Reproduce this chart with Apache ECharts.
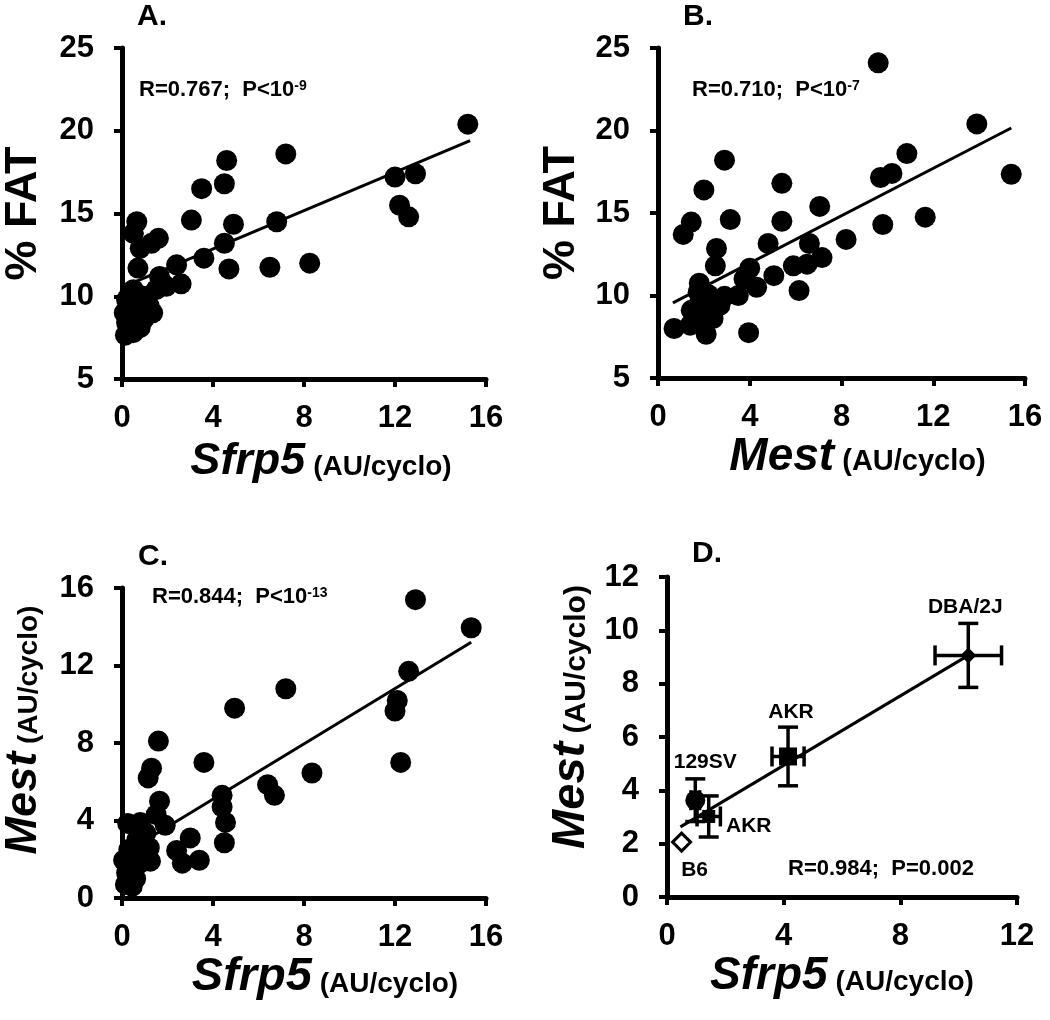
<!DOCTYPE html>
<html>
<head>
<meta charset="utf-8">
<script src="https://cdn.jsdelivr.net/npm/echarts@6/dist/echarts.min.js"></script>
<style>
  html, body { margin: 0; padding: 0; background: #fff; }
  #main { width: 1050px; height: 1020px; }
</style>
</head>
<body>
<div id="main"></div>
<script>
// tick labels
var ticksA_x = [0, 4, 8, 12, 16];
var ticksA_y = [5, 10, 15, 20, 25];
var ticksB_x = [0, 4, 8, 12, 16];
var ticksB_y = [5, 10, 15, 20, 25];
var ticksC_x = [0, 4, 8, 12, 16];
var ticksC_y = [0, 4, 8, 12, 16];
var ticksD_x = [0, 4, 8, 12];
var ticksD_y = [0, 2, 4, 6, 8, 10, 12];

// A: Sfrp5 vs % fat
var pointsA = [[15.2,20.4],[7.2,18.6],[4.6,18.2],[4.5,16.8],[3.5,16.5],[3.05,14.6],[4.9,14.35],[6.8,14.5],
  [4.5,13.2],[3.6,12.3],[4.7,11.65],[6.5,11.75],[8.25,12.0],[12.0,17.2],[12.9,17.4],[12.2,15.5],[12.6,14.8],
  [2.4,11.9],[2.6,10.75],[1.65,11.2],[1.6,13.5],[1.3,13.2],[0.65,14.5],[0.5,13.8],[0.8,12.9],[0.7,11.7],
  [1.95,10.6],[1.5,10.4],[0.5,10.4],[0.95,10.0],[0.2,9.8],[1.2,9.4],[0.5,9.2],[1.35,9.0],[0.95,8.6],
  [0.2,8.4],[0.5,7.8],[0.15,7.65],[0.8,8.1],[0.1,9.0],[0.35,10.2],[0.7,9.6]];
var fitA = [[0.1,10.6],[15.3,19.4]];

// B: Mest vs % fat
var pointsB = [[9.6,24.1],[13.9,20.4],[15.4,17.35],[10.85,18.6],[10.2,17.4],[9.7,17.15],[9.8,14.3],[11.65,14.75],
  [8.2,13.4],[7.05,15.4],[6.6,13.15],[7.15,12.3],[6.5,11.9],[5.9,11.8],[6.15,10.3],[5.05,11.2],[4.8,13.15],
  [5.4,16.8],[5.4,14.5],[4.0,11.65],[4.3,10.5],[3.75,11.0],[3.95,7.75],[3.5,10.0],[2.9,18.2],[3.15,14.6],
  [2.0,16.4],[1.45,14.45],[1.1,13.7],[2.55,12.85],[2.5,11.8],[1.8,10.75],[2.2,10.05],[2.9,9.95],[0.7,8.0],
  [1.4,8.2],[1.45,9.1],[2.1,7.65],[2.4,8.6],[1.8,9.5],[2.25,9.0],[1.6,8.7],[2.0,8.3],[1.75,10.2],[2.7,9.4]];
var fitB = [[0.65,9.55],[15.4,20.15]];

// C: Sfrp5 vs Mest
var pointsC = [[12.9,15.4],[15.35,13.95],[12.6,11.7],[12.1,10.2],[12.0,9.65],[12.25,7.0],[7.2,10.8],[4.95,9.8],
  [8.35,6.45],[6.4,5.85],[6.7,5.3],[3.6,7.0],[4.4,5.3],[4.4,4.7],[4.55,3.9],[4.5,2.85],[3.0,3.1],[3.4,1.95],
  [2.4,2.45],[2.65,1.8],[1.6,8.1],[1.3,6.7],[1.15,6.2],[1.65,5.0],[1.5,4.3],[1.9,3.75],[1.25,1.9],[1.2,2.6],
  [0.07,1.95],[0.45,0.6],[0.25,3.85],[0.8,3.9],[1.05,3.35],[0.65,3.0],[0.5,1.8],[0.6,1.0],[0.2,1.3],
  [1.0,2.8],[0.9,2.3],[0.3,2.5],[0.15,0.7],[0.8,1.8]];
var fitC = [[0.07,2.3],[15.35,13.2]];

// D: strain means
var strains = ['DBA/2J', 'AKR', '129SV', 'AKR', 'B6'];
var sfrp5D = [10.33, 4.15, 0.97, 1.43, 0.5];
var mestD = [9.06, 5.27, 3.63, 3.02, 2.06];
var sfrp5Err = [1.14, 0.55, 0.15, 0.4, 0];
var mestErr = [1.2, 1.1, 0.8, 0.77, 0];
var fitD = [[0.46,2.63],[10.33,9.06]];

var FONT = 'Liberation Sans, Arial, sans-serif';

function axisFrom(ticks) {
  return { min: ticks[0], max: ticks[ticks.length - 1], interval: ticks[1] - ticks[0] };
}

function makeAxis(grid, ticks, extra) {
  var ax = axisFrom(ticks);
  var a = {
    type: 'value', gridIndex: grid,
    min: ax.min, max: ax.max, interval: ax.interval,
    splitLine: { show: false },
    axisLine: { show: true, onZero: false, lineStyle: { color: '#000', width: 5 } },
    axisTick: { show: true, length: 8, lineStyle: { color: '#000', width: 4 } },
    axisLabel: { color: '#000', fontSize: 31, fontWeight: 'bold', fontFamily: FONT, margin: 24 },
    nameLocation: 'middle'
  };
  for (var k in extra) a[k] = extra[k];
  return a;
}

// italic gene name + smaller unit, shifted along the axis by pad
function richName(big, small, pad) {
  return {
    color: '#000',
    padding: [0, 0, 0, pad],
    rich: {
      i: { fontSize: big, fontStyle: 'italic', fontWeight: 'bold', fontFamily: FONT, color: '#000' },
      n: { fontSize: small, fontWeight: 'bold', fontFamily: FONT, color: '#000', verticalAlign: 'bottom', padding: [0, 0, 3, 0] }
    }
  };
}

var sfrpName = '{i|Sfrp5}{n| (AU/cyclo)}';
var mestName = '{i|Mest}{n| (AU/cyclo)}';

var fatName = { color: '#000', fontSize: 45, fontWeight: 'bold', fontFamily: FONT };
var yLabel = { color: '#000', fontSize: 31, fontWeight: 'bold', fontFamily: FONT, margin: 28 };

var dotStyle = { color: '#000', opacity: 1 };
function scatter(grid, pts) {
  return { type: 'scatter', xAxisIndex: grid, yAxisIndex: grid, data: pts, symbolSize: 21,
    itemStyle: dotStyle, silent: true, z: 3 };
}
function fitLine(grid, pts) {
  return { type: 'line', xAxisIndex: grid, yAxisIndex: grid, data: pts, showSymbol: false,
    lineStyle: { color: '#000', width: 3, opacity: 1 }, silent: true, z: 4 };
}

// strain marker looks and label offsets for panel D
var strainLook = [
  { symbol: 'diamond', size: 16, fill: '#000', offset: [-3, -48] },
  { symbol: 'rect', size: 18, fill: '#000', offset: [3, -44] },
  { symbol: 'circle', size: 20, fill: '#000', offset: [10, -38] },
  { symbol: 'rect', size: 13, fill: '#000', offset: [40, 10] },
  { symbol: 'diamond', size: 18, fill: '#fff', offset: [13, 28] }
];

var errData = [];
var strainData = [];
for (var i = 0; i < strains.length; i++) {
  errData.push([sfrp5D[i], mestD[i], sfrp5Err[i], mestErr[i]]);
  var lk = strainLook[i];
  strainData.push({
    value: [sfrp5D[i], mestD[i]],
    name: strains[i],
    symbol: lk.symbol,
    symbolSize: lk.size,
    itemStyle: { color: lk.fill, borderColor: '#000', borderWidth: lk.fill === '#fff' ? 3 : 0, opacity: 1 },
    label: { show: true, formatter: strains[i], position: 'inside', offset: lk.offset,
      color: '#000', fontSize: 21, fontWeight: 'bold', fontFamily: FONT }
  });
}

function renderErr(params, api) {
  var x = api.value(0), y = api.value(1), ex = api.value(2), ey = api.value(3);
  var cap = 10;
  var kids = [];
  var st = { stroke: '#000', lineWidth: 3.5 };
  if (ey > 0) {
    var t = api.coord([x, y + ey]), b = api.coord([x, y - ey]);
    kids.push({ type: 'line', shape: { x1: t[0], y1: t[1], x2: b[0], y2: b[1] }, style: st });
    kids.push({ type: 'line', shape: { x1: t[0] - cap, y1: t[1], x2: t[0] + cap, y2: t[1] }, style: st });
    kids.push({ type: 'line', shape: { x1: b[0] - cap, y1: b[1], x2: b[0] + cap, y2: b[1] }, style: st });
  }
  if (ex > 0) {
    var l = api.coord([x - ex, y]), r = api.coord([x + ex, y]);
    kids.push({ type: 'line', shape: { x1: l[0], y1: l[1], x2: r[0], y2: r[1] }, style: st });
    kids.push({ type: 'line', shape: { x1: l[0], y1: l[1] - cap, x2: l[0], y2: l[1] + cap }, style: st });
    kids.push({ type: 'line', shape: { x1: r[0], y1: r[1] - cap, x2: r[0], y2: r[1] + cap }, style: st });
  }
  return { type: 'group', children: kids };
}

function note(left, top, main, sup) {
  return {
    type: 'text', left: left, top: top, silent: true,
    style: {
      text: '{t|' + main + '}' + (sup ? '{s|' + sup + '}' : ''),
      rich: {
        t: { fontSize: 22, fontWeight: 'bold', fontFamily: FONT, fill: '#000', color: '#000' },
        s: { fontSize: 14, fontWeight: 'bold', fontFamily: FONT, fill: '#000', color: '#000', verticalAlign: 'top' }
      }
    }
  };
}
function panelTag(left, top, txt) {
  return { type: 'text', left: left, top: top, silent: true,
    style: { text: txt, fontSize: 30, fontWeight: 'bold', fontFamily: FONT, fill: '#000' } };
}

var chart = echarts.init(document.getElementById('main'));
chart.setOption({
  animation: false,
  backgroundColor: '#fff',
  grid: [
    { left: 115, top: 48, width: 371, height: 331 },
    { left: 658, top: 48, width: 367, height: 330 },
    { left: 115, top: 588, width: 371, height: 310 },
    { left: 667, top: 577, width: 350, height: 320 }
  ],
  xAxis: [
    makeAxis(0, ticksA_x, { name: sfrpName, nameGap: 60, nameTextStyle: richName(45, 28, 34) }),
    makeAxis(1, ticksB_x, { name: mestName, nameGap: 52, nameTextStyle: richName(46, 29, 32) }),
    makeAxis(2, ticksC_x, { name: sfrpName, nameGap: 56, nameTextStyle: richName(47, 28, 42) }),
    makeAxis(3, ticksD_x, { name: sfrpName, nameGap: 56, nameTextStyle: richName(46, 28, 0) })
  ],
  yAxis: [
    makeAxis(0, ticksA_y, { name: '% FAT', nameGap: 76, nameRotate: 90, nameTextStyle: fatName, axisLabel: yLabel }),
    makeAxis(1, ticksB_y, { name: '% FAT', nameGap: 74, nameRotate: 90, nameTextStyle: fatName, axisLabel: yLabel }),
    makeAxis(2, ticksC_y, { name: mestName, nameGap: 76, nameRotate: 90, nameTextStyle: richName(45, 28, 26), axisLabel: yLabel }),
    makeAxis(3, ticksD_y, { name: mestName, nameGap: 72, nameRotate: 90, nameTextStyle: richName(47, 30, 40), axisLabel: yLabel })
  ],
  graphic: [
    panelTag(137, 2, 'A.'),
    panelTag(683, 2, 'B.'),
    panelTag(138, 542, 'C.'),
    panelTag(692, 539, 'D.'),
    note(139, 79, 'R=0.767;  P<10', '-9'),
    note(692, 79, 'R=0.710;  P<10', '-7'),
    note(152, 586, 'R=0.844;  P<10', '-13'),
    note(788, 858, 'R=0.984;  P=0.002', '')
  ],
  series: [
    scatter(0, pointsA), fitLine(0, fitA),
    scatter(1, pointsB), fitLine(1, fitB),
    scatter(2, pointsC), fitLine(2, fitC),
    fitLine(3, fitD),
    { type: 'custom', xAxisIndex: 3, yAxisIndex: 3, data: errData, renderItem: renderErr,
      encode: { x: 0, y: 1 }, silent: true, z: 3 },
    { type: 'scatter', xAxisIndex: 3, yAxisIndex: 3, data: strainData, silent: true, z: 5 }
  ]
});
</script>
</body>
</html>
